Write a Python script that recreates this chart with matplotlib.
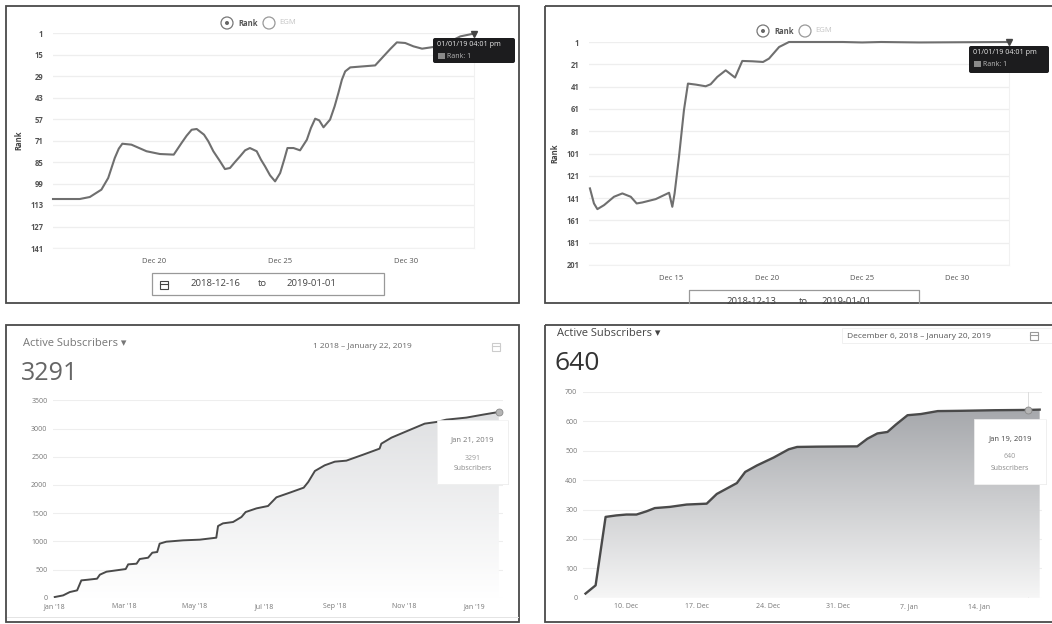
import numpy as np
import matplotlib
matplotlib.use("Agg")
import matplotlib.pyplot as plt
from matplotlib.colors import LinearSegmentedColormap
from matplotlib.patches import Rectangle, FancyBboxPatch, Circle

W, H = 1052, 624
plt.rcParams['font.family'] = ['Open Sans', 'DejaVu Sans']

# --- top left: rank, days counted from 1 Dec 2018
a_days = [16.0, 17.06, 17.46, 17.92, 18.19, 18.45, 18.61, 18.75, 19.11, 19.71, 20.24, 20.79, 21.10,
          21.30, 21.50, 21.70, 21.99, 22.16, 22.36, 22.6, 22.82, 23.02, 23.22, 23.42, 23.62, 23.81,
          24.08, 24.25, 24.41, 24.61, 24.81, 25.01, 25.17, 25.30, 25.54, 25.80, 26.07, 26.23, 26.40,
          26.56, 26.73, 26.99, 27.17, 27.32, 27.46, 27.59, 27.79, 28.32, 28.78, 29.11, 29.38, 29.64,
          29.97, 30.3, 30.64, 31.10, 31.63, 32.16, 32.69]
a_rank = [109.1, 109.1, 107.8, 103, 95.4, 82.4, 76.3, 73.1, 73.7, 78, 79.8, 80.2, 72.6,
          67.9, 64, 63.5, 67.2, 71.5, 78, 83.9, 89.6, 88.9, 85, 81.3, 77.4, 75.9,
          78, 83.5, 87.8, 93.7, 97.6, 92.2, 83.5, 75.9, 75.9, 77.4, 70.5, 62.9, 56.8,
          57.9, 62.4, 57.4, 48.8, 40.1, 31.4, 26, 23.4, 22.7, 22.1, 16.2, 11.4, 7.1,
          7.5, 9.7, 11.2, 10.1, 7.5, 3.2, 1.4]
a_yticks = [1, 15, 29, 43, 57, 71, 85, 99, 113, 127, 141]
a_xticks = [20, 25, 30]
a_xlabels = ['Dec 20', 'Dec 25', 'Dec 30']

# --- top right: rank
b_days = [10.73, 10.94, 11.12, 11.47, 11.99, 12.43, 12.87, 13.18, 13.48, 14.18, 14.88, 15.05,
          15.17, 15.40, 15.66, 15.87, 16.28, 16.80, 17.06, 17.41, 17.85, 18.34, 18.72, 19.25,
          19.81, 20.12, 20.65, 21.17, 21.7, 24, 25, 26, 28, 32.71]
b_rank = [132.3, 145.8, 150.9, 147.3, 139.8, 136.8, 139.8, 145.8, 144.9, 141.9, 136.2, 148.8,
          136.8, 104, 62.2, 38.3, 39.2, 40.7, 38.9, 32.3, 26.4, 32.9, 18, 18.3,
          18.9, 15.9, 5.5, 1, 1, 1, 1.4, 1, 1.4, 1]
b_yticks = [1, 21, 41, 61, 81, 101, 121, 141, 161, 181, 201]
b_xticks = [15, 20, 25, 30]
b_xlabels = ['Dec 15', 'Dec 20', 'Dec 25', 'Dec 30']

# --- bottom left: subscribers, months counted from Jan 2018
c_months = [0, .24, .43, .64, .76, .95, 1.21, 1.29, 1.48, 1.76, 2.03, 2.10, 2.34, 2.43, 2.67,
            2.79, 2.93, 3.00, 3.19, 3.67, 4.15, 4.62, 4.67, 4.81, 5.10, 5.34, 5.46, 5.77, 6.10,
            6.34, 6.72, 7.12, 7.25, 7.44, 7.72, 8.01, 8.34, 8.82, 9.29, 9.34, 9.63, 10.15,
            10.58, 10.92, 11.20, 11.77, 12.25, 12.70]
c_subs = [12, 41, 100, 130, 307, 319, 337, 408, 461, 485, 508, 591, 603, 686, 709,
          798, 810, 958, 993, 1017, 1029, 1064, 1271, 1318, 1342, 1431, 1519, 1584, 1626,
          1780, 1862, 1951, 2052, 2247, 2347, 2412, 2430, 2536, 2643, 2731, 2838, 2974,
          3086, 3116, 3157, 3193, 3246, 3293]
c_yticks = [0, 500, 1000, 1500, 2000, 2500, 3000, 3500]
c_xticks = [0, 2, 4, 6, 8, 10, 12]
c_xlabels = ["Jan '18", "Mar '18", "May '18", "Jul '18", "Sep '18", "Nov '18", "Jan '19"]

# --- bottom right: subscribers, days counted from 1 Dec 2018
d_days = [5.95, 6.95, 7.94, 9.0, 10, 11, 12, 12.82, 14.31, 15.97, 17.96, 18.96, 20.95, 21.78,
          22.94, 24.6, 26.09, 26.92, 28.91, 32.89, 33.89, 34.88, 35.88, 36.71, 37.87, 39.2,
          40.86, 43.18, 46.5, 49.81, 50.97]
d_subs = [14, 42, 275, 280, 283, 283, 294, 305, 309, 317, 320, 353, 390, 428,
          450, 477, 505, 513, 514, 515, 541, 559, 564, 589, 621, 625,
          635, 636, 638, 639, 640]
d_yticks = [0, 100, 200, 300, 400, 500, 600, 700]
d_xticks = [10, 17, 24, 31, 38, 45]
d_xlabels = ['10. Dec', '17. Dec', '24. Dec', '31. Dec', '7. Jan', '14. Jan']


def axes_px(fig, left, top, right, bottom):
    return fig.add_axes([left / W, 1 - bottom / H, (right - left) / W, (bottom - top) / H])


def rank_chart(ax, days, rank, yticks, xticks, xlabels, xlim):
    ax.plot(days, rank, color='#6f6f6f', lw=1.5, solid_joinstyle='round', clip_on=False)
    ax.plot(days[-1], rank[-1], marker='v', ms=4, color='#444444', clip_on=False, zorder=4)
    ax.set_xlim(*xlim)
    ax.set_ylim(yticks[-1], yticks[0])
    ax.set_yticks(yticks)
    ax.set_xticks(xticks)
    ax.set_xticklabels(xlabels)
    ax.grid(axis='y', color='#eeeeee', lw=0.9)
    ax.tick_params(length=0, labelsize=5.5, labelcolor='#555555', pad=7)
    for lab in ax.get_yticklabels():
        lab.set_fontweight('bold')
    for name in ['top', 'left']:
        ax.spines[name].set_visible(False)
    for name in ['right', 'bottom']:
        ax.spines[name].set_color('#f1f1f1')
    ax.set_ylabel('Rank', fontsize=5.5, fontweight='bold', color='#444444', labelpad=5)
    ax.set_axisbelow(True)


def subs_chart(ax, x, y, yticks, xticks, xlabels, xlim, top_color, bottom_color, lw, hover):
    cmap = LinearSegmentedColormap.from_list('fade', [top_color, bottom_color])
    poly = ax.fill_between(x, y, 0, color='none')
    grad = np.linspace(0, 1, 256).reshape(-1, 1)
    im = ax.imshow(grad, cmap=cmap, aspect='auto', zorder=1.5,
                   extent=[x[0], x[-1], 0, max(y)])
    im.set_clip_path(poly.get_paths()[0], transform=ax.transData)
    ax.plot(x, y, color='#4a4a4a', lw=lw, zorder=3, solid_joinstyle='round')
    ax.plot(x[hover], y[hover], marker='o', ms=5, mfc='#b5b5b5', mec='#8a8a8a', mew=0.6, zorder=4)
    ax.set_xlim(*xlim)
    ax.set_ylim(yticks[0], yticks[-1])
    ax.set_yticks(yticks)
    ax.set_xticks(xticks)
    ax.set_xticklabels(xlabels)
    ax.grid(axis='y', color='#eeeeee', lw=0.8)
    ax.tick_params(length=0, labelsize=5, labelcolor='#777777', pad=4)
    for spine in ax.spines.values():
        spine.set_visible(False)
    ax.set_axisbelow(True)


def calendar(over, cx, cy, color='#777777'):
    over.add_patch(Rectangle((cx - 4, cy - 4), 8, 8, fc='none', ec=color, lw=0.8))
    over.plot([cx - 4, cx + 4], [cy - 1.5, cy - 1.5], color=color, lw=0.8)


def tooltip_dark(over, left, top, right, bottom, stamp):
    over.add_patch(FancyBboxPatch((left + 2, top + 2), right - left - 4, bottom - top - 4,
                                  boxstyle='round,pad=2', fc='#1c1c1e', ec='none', zorder=6))
    over.text(left + 4, top + 7, stamp, color='#e8e8e8', fontsize=5.2, va='center', zorder=7)
    over.add_patch(Rectangle((left + 5, top + 15), 7, 6, fc='#8a8a8a', ec='none', zorder=7))
    over.text(left + 14, top + 18, 'Rank: 1', color='#bbbbbb', fontsize=5, va='center', zorder=7)


def tooltip_light(over, left, top, right, bottom, day, count, color):
    over.add_patch(Rectangle((left + 1, top + 1), right - left, bottom - top,
                             fc='#dddddd', ec='none', zorder=5))
    over.add_patch(Rectangle((left, top), right - left, bottom - top,
                             fc='white', ec='#f0f0f0', lw=0.5, zorder=6))
    cx = (left + right) / 2
    over.text(cx, top + 20, day, color=color, fontsize=5.5, ha='center', va='center', zorder=7)
    over.text(cx, top + 38, count, color='#999999', fontsize=5, ha='center', va='center', zorder=7)
    over.text(cx, top + 49, 'Subscribers', color='#888888', fontsize=5, ha='center', va='center', zorder=7)


def radios(over, x1, x2, y):
    over.add_patch(Circle((x1, y), 6, fc='white', ec='#777777', lw=0.9))
    over.add_patch(Circle((x1, y), 2, fc='#666666', ec='none'))
    over.add_patch(Circle((x2, y), 6, fc='white', ec='#999999', lw=0.9))
    over.text(x1 + 21, y, 'Rank', fontsize=5.5, fontweight='bold', color='#555555', ha='center', va='center')
    over.text(x2 + 19, y, 'EGM', fontsize=5.5, color='#c4c4c4', ha='center', va='center')


fig = plt.figure(figsize=(W / 100, H / 100), dpi=100, facecolor='white')

ax_a = axes_px(fig, 53, 33, 474, 248)
rank_chart(ax_a, a_days, a_rank, a_yticks, a_xticks, a_xlabels, (16, 32.7))
ax_b = axes_px(fig, 589, 42, 1009, 265)
rank_chart(ax_b, b_days, b_rank, b_yticks, b_xticks, b_xlabels, (10.68, 32.71))
ax_c = axes_px(fig, 53, 400.3, 503, 597.7)
subs_chart(ax_c, c_months, c_subs, c_yticks, c_xticks, c_xlabels, (-0.05, 12.82),
           '#dfe0e2', '#ffffff', 1.4, -1)
ax_d = axes_px(fig, 583, 392, 1042, 597.7)
subs_chart(ax_d, d_days, d_subs, d_yticks, d_xticks, d_xlabels, (5.7, 51.2),
           '#a6a8ac', '#f6f6f6', 1.7, -2)
ax_d.axvline(d_days[-2], color='#dddddd', lw=0.7, zorder=1)

# page furniture goes on an overlay in pixel coordinates
over = fig.add_axes([0, 0, 1, 1], zorder=10)
over.set_xlim(0, W)
over.set_ylim(H, 0)
over.axis('off')
over.patch.set_alpha(0)

for left, top, right, bottom in [(6, 6, 519, 303), (545, 6, 1060, 303),
                                 (6, 325, 519, 622), (545, 325, 1060, 622)]:
    over.add_patch(Rectangle((left, top), right - left, bottom - top, fc='none', ec='#4a4a4a', lw=1.3))
over.plot([7, 518], [617, 617], color='#e4e4e4', lw=0.7)

radios(over, 227, 269, 23)
radios(over, 763, 805, 31)

over.add_patch(Rectangle((152, 273), 232, 22, fc='white', ec='#999999', lw=0.9))
calendar(over, 164, 285, '#444444')
for x, s in [(215, '2018-12-16'), (262, 'to'), (311, '2019-01-01')]:
    over.text(x, 284, s, fontsize=6.8, color='#444444', ha='center', va='center')

over.plot([689, 689, 919, 919], [303, 290, 290, 303], color='#999999', lw=0.9)
for x, s in [(751, '2018-12-13'), (803, 'to'), (846, '2019-01-01')]:
    over.text(x, 301, s, fontsize=6.8, color='#444444', ha='center', va='center',
              clip_on=True, clip_path=Rectangle((545, 6), 515, 297, transform=over.transData))

tooltip_dark(over, 433, 38, 515, 63, '01/01/19 04:01 pm')
tooltip_dark(over, 969, 46, 1049, 73, '01/01/19 04:01 pm')

over.text(23, 343, 'Active Subscribers \u25be', fontsize=8, color='#777777', va='center')
over.text(21, 373, '3291', fontsize=18, color='#666666', va='center')
over.text(362, 347, '1 2018 \u2013 January 22, 2019', fontsize=6, color='#666666', ha='center', va='center')
calendar(over, 496, 347, '#cccccc')
tooltip_light(over, 437, 420, 508, 484, 'Jan 21, 2019', '3291', '#777777')

over.text(557, 333, 'Active Subscribers \u25be', fontsize=8, color='#444444', va='center')
over.text(555, 364, '640', fontsize=19, color='#333333', va='center')
over.add_patch(Rectangle((842, 328), 210, 15, fc='none', ec='#f0f0f0', lw=0.7))
over.text(919, 336, 'December 6, 2018 \u2013 January 20, 2019', fontsize=6, color='#555555', ha='center', va='center')
calendar(over, 1034, 336, '#999999')
tooltip_light(over, 974, 419, 1046, 484, 'Jan 19, 2019', '640', '#444444')

fig.savefig('out.png', dpi=100)
